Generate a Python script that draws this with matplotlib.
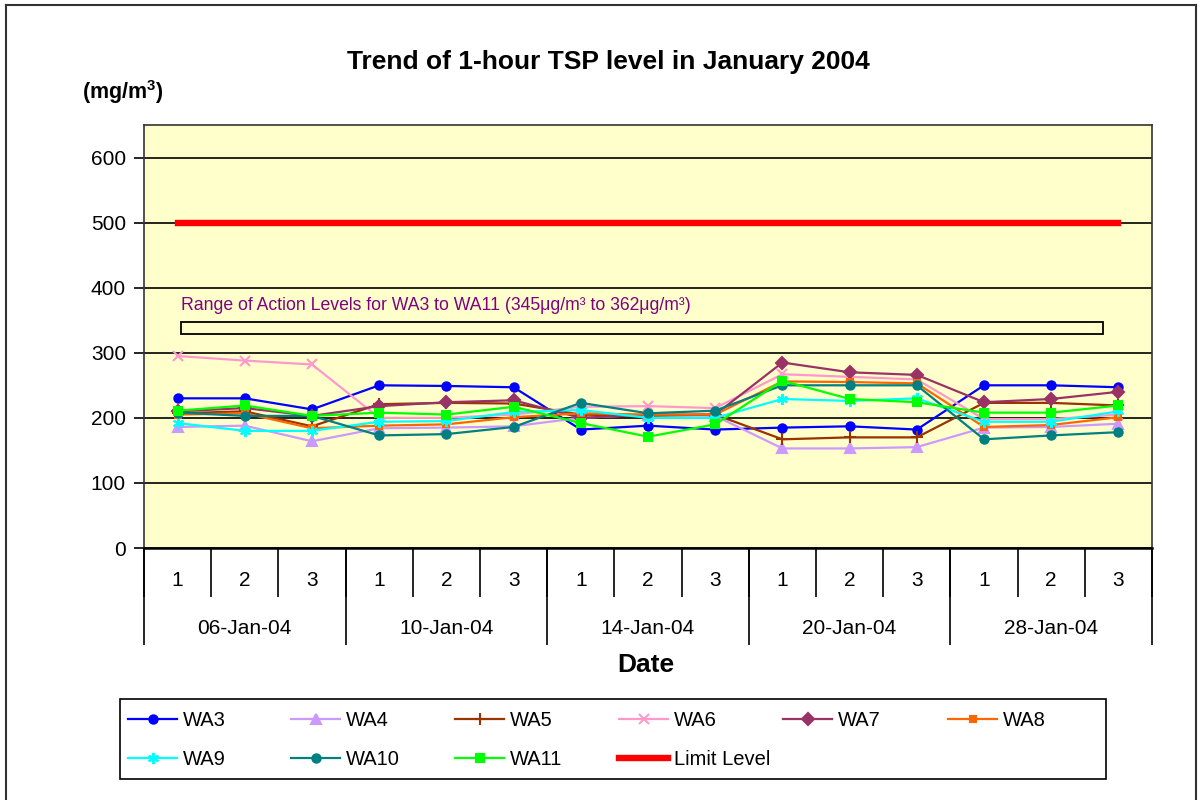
import matplotlib
matplotlib.use('Agg')
import matplotlib.pyplot as plt
from matplotlib.lines import Line2D
from matplotlib.patches import Rectangle

W, H = 1201, 800
FONT = ['Liberation Sans', 'DejaVu Sans']
NARROW = ['Liberation Sans Narrow', 'Liberation Sans', 'DejaVu Sans']

dates = ['06-Jan-04', '10-Jan-04', '14-Jan-04', '20-Jan-04', '28-Jan-04']
runs = ['1', '2', '3']

wa3 = [230, 230, 213, 250, 249, 247, 182, 188, 182, 185, 187, 182, 250, 250, 247]
wa4 = [186, 188, 164, 184, 185, 187, 200, 205, 203, 153, 153, 155, 185, 186, 191]
wa5 = [207, 210, 187, 221, 223, 222, 205, 203, 205, 167, 170, 170, 223, 223, 219]
wa6 = [295, 288, 282, 200, 200, 205, 217, 218, 215, 267, 263, 259, 198, 198, 205]
wa7 = [210, 215, 203, 218, 224, 227, 200, 205, 205, 285, 270, 266, 224, 229, 240]
wa8 = [205, 207, 184, 188, 190, 201, 207, 205, 205, 256, 255, 253, 186, 189, 201]
wa9 = [192, 180, 180, 194, 195, 209, 212, 200, 200, 229, 226, 230, 194, 194, 210]
wa10 = [208, 203, 203, 173, 175, 186, 223, 207, 211, 250, 250, 250, 167, 173, 178]
wa11 = [211, 219, 203, 208, 205, 217, 192, 171, 190, 257, 229, 224, 208, 208, 219]
limit = [500] * 15

SERIES = [
    ('WA3', wa3, '#0000FF', 'o', 6),
    ('WA4', wa4, '#CC99FF', '^', 7),
    ('WA5', wa5, '#993300', '+', 8),
    ('WA6', wa6, '#FF99CC', 'x', 7),
    ('WA7', wa7, '#993366', 'D', 6),
    ('WA8', wa8, '#FF6600', 's', 5),
    ('WA9', wa9, '#00FFFF', (6, 2, 0), 8),
    ('WA10', wa10, '#008080', 'o', 6),
    ('WA11', wa11, '#00FF00', 's', 6),
]


def px(x, y):
    # pixel position -> figure fraction
    return x / W, 1 - y / H


def draw_axis_labels(ax):
    tr = ax.get_xaxis_transform()
    ah = 423
    n = len(dates) * len(runs)
    ax.vlines([i - 0.5 for i in range(n + 1)], -49 / ah, 0, transform=tr,
              clip_on=False, color='black', lw=1.2)
    ax.vlines([i * 3 - 0.5 for i in range(len(dates) + 1)], -97 / ah, 0,
              transform=tr, clip_on=False, color='black', lw=1.2)
    for i in range(n):
        ax.text(i, -32 / ah, runs[i % 3], transform=tr, ha='center',
                va='center', fontsize=15, family=FONT)
    for j, d in enumerate(dates):
        ax.text(j * 3 + 1, -80 / ah, d, transform=tr, ha='center',
                va='center', fontsize=15, family=FONT)


def run():
    fig = plt.figure(figsize=(W / 100, H / 100), dpi=100)
    l, b = px(144, 548)
    ax = fig.add_axes([l, b, 1008 / W, 423 / H])
    ax.set_facecolor('#FFFFCC')

    x = list(range(len(wa3)))
    handles = {}
    for name, vals, col, mk, ms in SERIES:
        h, = ax.plot(x, vals, color=col, marker=mk, markersize=ms, lw=1.6,
                     mec=col, mew=1.5, label=name, zorder=3)
        handles[name] = h
    h, = ax.plot(x, limit, color='#FF0000', lw=4.6, label='Limit Level', zorder=4)
    handles['Limit Level'] = h

    ax.set_xlim(-0.5, 14.5)
    ax.set_ylim(0, 650)
    ax.set_yticks(range(0, 601, 100))
    ax.set_xticks([])
    ax.tick_params(axis='y', length=7, width=1.2, pad=6, labelsize=15)
    for t in ax.get_yticklabels():
        t.set_family(FONT)
    ax.yaxis.grid(True, color='black', lw=1.2)
    ax.set_axisbelow(True)
    for s in ax.spines.values():
        s.set_color('#333333')
        s.set_linewidth(1.2)
    ax.spines['bottom'].set_color('black')
    ax.spines['bottom'].set_linewidth(1.8)

    draw_axis_labels(ax)

    # action level range note
    ax.text(37 / 1008, (548 - 305) / 423,
            'Range of Action Levels for WA3 to WA11 (345\u03bcg/m\u00b3 to 362\u03bcg/m\u00b3)',
            transform=ax.transAxes, ha='left', va='center', fontsize=12.7,
            color='#800080', family=NARROW)
    ax.add_patch(Rectangle(((181 - 144) / 1008, (548 - 334) / 423),
                           (1103 - 181) / 1008, 12 / 423,
                           transform=ax.transAxes, fill=False,
                           edgecolor='black', lw=1.3, zorder=2))

    # titles
    fig.text(*px(608, 62), 'Trend of 1-hour TSP level in January 2004',
             ha='center', va='center', fontsize=19, fontweight='bold', family=FONT)
    fig.text(*px(82, 92), '(mg/m$^\\mathregular{3}$)', ha='left', va='center',
             fontsize=15.5, fontweight='bold', family=FONT)
    fig.text(*px(646, 665), 'Date', ha='center', va='center', fontsize=19,
             fontweight='bold', family=FONT)

    # legend, one column at a time so the columns are evenly spaced
    cols = [['WA3', 'WA9'], ['WA4', 'WA10'], ['WA5', 'WA11'],
            ['WA6', 'Limit Level'], ['WA7'], ['WA8']]
    col_x = [128, 291, 455, 619, 783, 948]
    for names, cx in zip(cols, col_x):
        fig.legend([handles[n] for n in names], names, loc='upper left',
                   bbox_to_anchor=px(cx, 711), frameon=False, borderpad=0,
                   borderaxespad=0, handlelength=2.45, handletextpad=0.3,
                   labelspacing=0.98, prop={'family': FONT, 'size': 14.5})
    lx, ly = px(120, 779)
    fig.add_artist(Rectangle((lx, ly), 986 / W, 80 / H, transform=fig.transFigure,
                             fill=False, edgecolor='black', lw=1.2))

    # outer chart border
    for xs, ys in [((6, 6), (5, 810)), ((6, 1196), (5, 5)), ((1196, 1196), (5, 810))]:
        fig.add_artist(Line2D([v / W for v in xs], [1 - v / H for v in ys],
                              transform=fig.transFigure, color='#333333', lw=1.5))

    fig.savefig('out.png', dpi=100)


if __name__ == '__main__':
    run()
